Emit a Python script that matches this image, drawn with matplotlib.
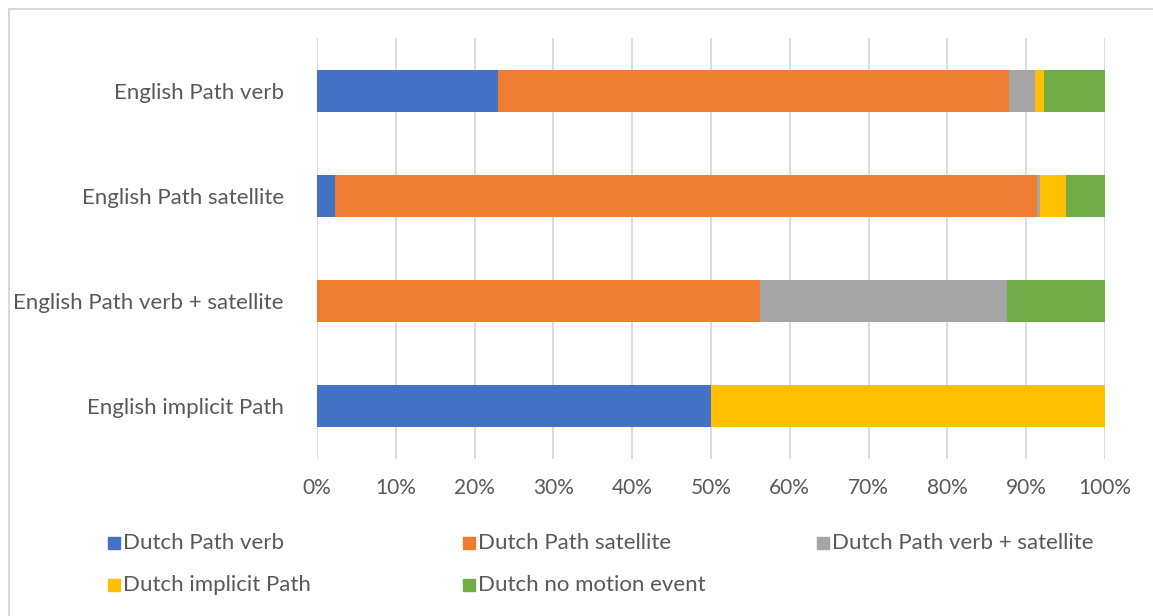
import matplotlib.pyplot as plt
from matplotlib.patches import Rectangle
import numpy as np

# categories, top to bottom as shown
categories = ['English Path verb', 'English Path satellite',
              'English Path verb + satellite', 'English implicit Path']

# share of each Dutch coding per English category (percent)
series_names = ['Dutch Path verb', 'Dutch Path satellite', 'Dutch Path verb + satellite',
                'Dutch implicit Path', 'Dutch no motion event']
path_verb = [23.0, 2.3, 0.0, 50.0]
path_satellite = [64.8, 89.1, 56.25, 0.0]
path_verb_sat = [3.3, 0.3, 31.25, 0.0]
implicit_path = [1.2, 3.3, 0.0, 50.0]
no_motion = [7.7, 5.0, 12.5, 0.0]

colors = ['#4472C4', '#ED7D31', '#A5A5A5', '#FFC000', '#70AD47']
tick_vals = np.arange(0, 101, 10)

plt.rcParams['font.family'] = ['Lato', 'DejaVu Sans']
text_color = '#595959'
grid_color = '#D9D9D9'

W, H = 1153, 616
fig = plt.figure(figsize=(W / 100, H / 100), dpi=100)

# chart area border (light gray, runs off the right/bottom edge)
fig.patches.append(Rectangle((9 / W, -0.1), 1.2, 1 - 9 / H + 0.1, transform=fig.transFigure,
                             fill=False, edgecolor=grid_color, linewidth=1.5))

ax = fig.add_axes([317 / W, 1 - 459 / H, (1105 - 317) / W, (459 - 38) / H])

ypos = np.arange(len(categories))[::-1]
data = [path_verb, path_satellite, path_verb_sat, implicit_path, no_motion]
left = np.zeros(len(categories))
for name, vals, c in zip(series_names, data, colors):
    vals = np.array(vals)
    ax.barh(ypos, vals, left=left, height=0.4, color=c, label=name, zorder=3)
    left += vals

ax.set_xlim(0, 100)
ax.set_ylim(-0.5, 3.5)
ax.set_xticks(tick_vals)
ax.set_xticklabels([f'{v}%' for v in tick_vals])
ax.set_yticks(ypos)
ax.set_yticklabels(categories)
ax.grid(axis='x', color=grid_color, linewidth=1.3, zorder=0)
for s in ax.spines.values():
    s.set_visible(False)
ax.tick_params(axis='both', length=0, colors=text_color)
ax.tick_params(axis='x', pad=14, labelsize=15)
ax.tick_params(axis='y', pad=24, labelsize=16)

# legend laid out row by row like the original
leg_cols_x = [108, 463, 817]
leg_rows_y = [543, 585]
for i, (name, c) in enumerate(zip(series_names, colors)):
    r, col = divmod(i, 3)
    x0 = leg_cols_x[col]
    y0 = leg_rows_y[r]
    fig.patches.append(Rectangle((x0 / W, 1 - (y0 + 6) / H), 12 / W, 12 / H,
                                 transform=fig.transFigure, color=c))
    fig.text((x0 + 15) / W, 1 - y0 / H, name, color=text_color, fontsize=16,
             va='center', ha='left')

fig.savefig('out.png', dpi=100)
